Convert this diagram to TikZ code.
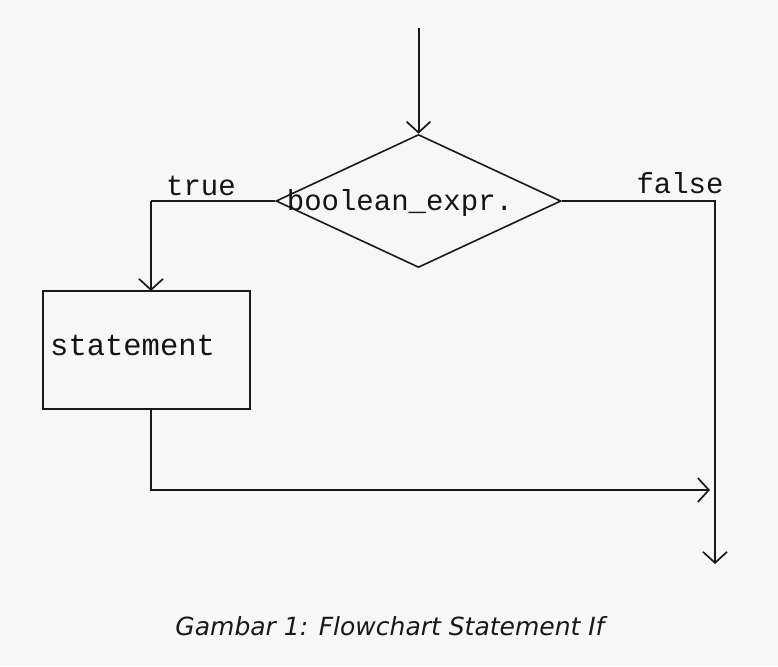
\documentclass[tikz,border=0pt]{standalone}
\usepackage{fontspec}
\newfontfamily\monof{Liberation Mono}
\newfontfamily\capf{DejaVu Sans}
\usetikzlibrary{shapes.geometric,arrows.meta}
\begin{document}
\begin{tikzpicture}[x=1pt,y=-1pt,
  line/.style={draw=black!90, line width=2pt},
  arr/.style={line, -{Straight Barb[length=11pt,width=24pt,line width=1.7pt]}},
  lbl/.style={font=\monof\fontsize{29}{30}\selectfont, text=black!92, inner sep=0pt, anchor=base},
  decision/.style={diamond, draw=black!90, line width=1.6pt, minimum width=285pt, minimum height=133pt, inner sep=0pt},
  procbox/.style={rectangle, draw=black!90, line width=2pt, minimum width=207pt, minimum height=118pt, inner sep=0pt}]
\useasboundingbox (0,0) rectangle (778,666);
\fill[white!97!black] (0,0) rectangle (778,666);
\node[decision] (d) at (418.5,201) {};
\node[lbl] (dt) at (400,210) {boolean\_expr.};
\node[procbox] (s) at (146.5,350) {};
\node[lbl, anchor=base west, font=\monof\fontsize{30.5}{31}\selectfont] (st) at (50,355) {statement};
\node[lbl] (tl) at (201,195) {true};
\node[lbl] (fl) at (680,193) {false};
\coordinate (start) at (418.5,28);
\coordinate (sb) at (151,409);
\coordinate (sn) at (151,291);
\coordinate (join) at (710,490);
\coordinate (fend) at (715,564);
\coordinate (fturn) at (715,201);
\draw[arr] (start) -- (d.north);
\draw[line] (d.west) -- (151,201) coordinate (tt);
\draw[arr] (tt) -- (sn);
\draw[arr] (sb) |- (join);
\draw[arr] (d.east) -- (fturn) -- (fend);
\node[font=\capf\itshape\fontsize{25}{28}\selectfont, text=black!90, anchor=base] (cap) at (390,635) {Gambar 1: Flowchart Statement If};
\end{tikzpicture}
\end{document}
